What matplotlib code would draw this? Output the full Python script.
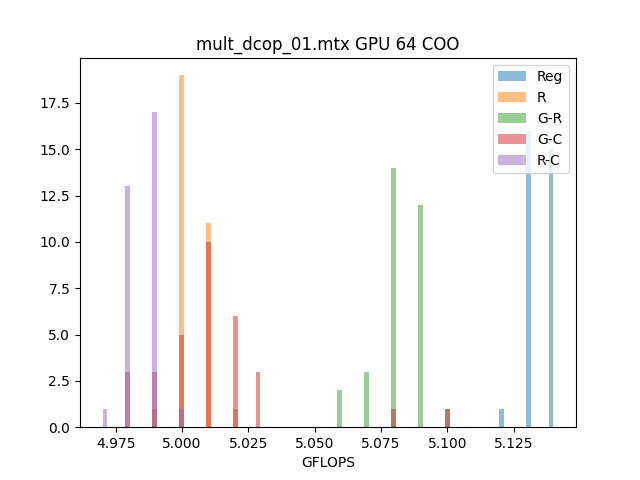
import numpy as np
import matplotlib
matplotlib.use("Agg")
import matplotlib.pyplot as plt

labels = ["Reg", "R", "G-R", "G-C", "R-C"]

reg_vals = [5.12, 5.13, 5.14]
reg_counts = [1, 16, 15]

r_vals = [4.99, 5.00, 5.01, 5.02]
r_counts = [1, 19, 11, 1]

gr_vals = [5.06, 5.07, 5.08, 5.09, 5.10]
gr_counts = [2, 3, 14, 12, 1]

gc_vals = [4.98, 4.99, 5.00, 5.01, 5.02, 5.028, 5.08, 5.10]
gc_counts = [3, 3, 5, 10, 6, 3, 1, 1]

rc_vals = [4.97, 4.98, 4.99, 5.00]
rc_counts = [1, 13, 17, 1]

series = [
    np.repeat(reg_vals, reg_counts),
    np.repeat(r_vals, r_counts),
    np.repeat(gr_vals, gr_counts),
    np.repeat(gc_vals, gc_counts),
    np.repeat(rc_vals, rc_counts),
]

allv = np.concatenate(series)
bins = np.linspace(allv.min(), allv.max(), 101)

fig, ax = plt.subplots(figsize=(6.4, 4.8), dpi=100)
for data, lab in zip(series, labels):
    ax.hist(data, bins=bins, alpha=0.5, label=lab)

ax.set_title("mult_dcop_01.mtx GPU 64 COO")
ax.set_xlabel("GFLOPS")
ax.legend(loc="upper right")
fig.savefig("out.png", dpi=100)
